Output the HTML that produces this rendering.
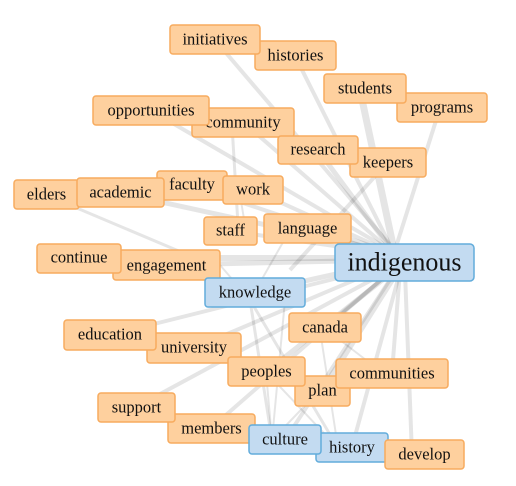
<!DOCTYPE html>
<html><head><meta charset="utf-8"><style>
html,body{margin:0;padding:0;background:#fff;width:516px;height:486px;overflow:hidden}
svg{display:block}
svg text{font-family:"Liberation Serif","DejaVu Serif",serif;font-size:16.5px;fill:#111;text-anchor:middle;dominant-baseline:central}
.o{fill:#fed09e;stroke:#f7ab5e;stroke-width:1.5}
.b{fill:#c3dbf1;stroke:#62acdb;stroke-width:1.5}
line{stroke:#000;stroke-opacity:.1;stroke-linecap:butt}
</style></head><body>
<svg width="516" height="486" viewBox="0 0 516 486" font-family="'Liberation Serif', 'DejaVu Serif', serif">
<g>
<line x1="215" y1="40" x2="390" y2="245" stroke-width="4"/>
<line x1="295" y1="56" x2="390" y2="245" stroke-width="4"/>
<line x1="360" y1="90" x2="393" y2="245" stroke-width="7"/>
<line x1="440" y1="108" x2="395" y2="250" stroke-width="4"/>
<line x1="150" y1="110" x2="390" y2="250" stroke-width="4"/>
<line x1="243" y1="122" x2="390" y2="250" stroke-width="4"/>
<line x1="318" y1="150" x2="390" y2="248" stroke-width="5"/>
<line x1="388" y1="162" x2="290" y2="270" stroke-width="4"/>
<line x1="46" y1="195" x2="200" y2="260" stroke-width="3"/>
<line x1="120" y1="193" x2="390" y2="252" stroke-width="5"/>
<line x1="192" y1="186" x2="390" y2="252" stroke-width="4"/>
<line x1="253" y1="190" x2="390" y2="252" stroke-width="4"/>
<line x1="230" y1="231" x2="390" y2="254" stroke-width="4"/>
<line x1="307" y1="229" x2="390" y2="254" stroke-width="4"/>
<line x1="79" y1="258" x2="390" y2="258" stroke-width="6"/>
<line x1="166" y1="265" x2="390" y2="260" stroke-width="5"/>
<line x1="255" y1="292" x2="390" y2="262" stroke-width="5"/>
<line x1="110" y1="335" x2="390" y2="265" stroke-width="4"/>
<line x1="194" y1="348" x2="390" y2="265" stroke-width="4"/>
<line x1="325" y1="327" x2="395" y2="268" stroke-width="4"/>
<line x1="266" y1="372" x2="395" y2="270" stroke-width="5"/>
<line x1="322" y1="391" x2="398" y2="270" stroke-width="6"/>
<line x1="392" y1="373" x2="400" y2="270" stroke-width="4"/>
<line x1="136" y1="407" x2="390" y2="270" stroke-width="4"/>
<line x1="211" y1="428" x2="390" y2="272" stroke-width="4"/>
<line x1="285" y1="440" x2="395" y2="272" stroke-width="4"/>
<line x1="352" y1="447" x2="400" y2="272" stroke-width="4"/>
<line x1="412" y1="455" x2="405" y2="272" stroke-width="4"/>
<line x1="232" y1="125" x2="238" y2="225" stroke-width="3"/>
<line x1="240" y1="195" x2="245" y2="225" stroke-width="2"/>
<line x1="250" y1="300" x2="272" y2="440" stroke-width="3"/>
<line x1="250" y1="300" x2="338" y2="448" stroke-width="3"/>
<line x1="285" y1="300" x2="272" y2="440" stroke-width="2"/>
<line x1="320" y1="330" x2="338" y2="448" stroke-width="2"/>
<line x1="266" y1="372" x2="272" y2="440" stroke-width="2"/>
<line x1="266" y1="372" x2="338" y2="448" stroke-width="2"/>
<line x1="320" y1="390" x2="272" y2="440" stroke-width="2"/>
<line x1="340" y1="340" x2="366" y2="360" stroke-width="2"/>
<line x1="290" y1="230" x2="250" y2="300" stroke-width="2"/>
<line x1="220" y1="265" x2="250" y2="300" stroke-width="2"/>
</g>
<g font-family="'Liberation Serif', 'DejaVu Serif', serif">
<rect class="o" x="255" y="41" width="81" height="29" rx="3"/><text x="295.5" y="55">histories</text>
<rect class="o" x="170" y="25" width="90" height="29" rx="3"/><text x="215" y="39">initiatives</text>
<rect class="o" x="397" y="93" width="90" height="29" rx="3"/><text x="442" y="107">programs</text>
<rect class="o" x="324" y="74" width="82" height="29" rx="3"/><text x="365" y="88">students</text>
<rect class="o" x="192" y="108" width="102" height="29" rx="3"/><text x="243" y="122">community</text>
<rect class="o" x="93" y="96" width="116" height="29" rx="3"/><text x="151" y="110">opportunities</text>
<rect class="o" x="350" y="148" width="76" height="29" rx="3"/><text x="388" y="162">keepers</text>
<rect class="o" x="278" y="136" width="80" height="28" rx="3"/><text x="318" y="149">research</text>
<rect class="o" x="14" y="180" width="65" height="29" rx="3"/><text x="46.5" y="194">elders</text>
<rect class="o" x="157" y="171" width="70" height="29" rx="3"/><text x="192" y="184">faculty</text>
<rect class="o" x="77" y="178" width="87" height="29" rx="3"/><text x="120.5" y="192">academic</text>
<rect class="o" x="223" y="176" width="60" height="28" rx="3"/><text x="253" y="189">work</text>
<rect class="o" x="204" y="217" width="53" height="28" rx="3"/><text x="230.5" y="230">staff</text>
<rect class="o" x="264" y="214" width="87" height="29" rx="3"/><text x="307.5" y="228">language</text>
<rect class="b" x="335" y="244" width="139" height="37" rx="4"/><text x="404.5" y="262" style="font-size:26px">indigenous</text>
<rect class="o" x="113" y="250" width="107" height="30" rx="3"/><text x="166.5" y="265">engagement</text>
<rect class="o" x="37" y="244" width="84" height="29" rx="3"/><text x="79" y="257">continue</text>
<rect class="b" x="205" y="278" width="100" height="29" rx="3"/><text x="255" y="292">knowledge</text>
<rect class="o" x="289" y="313" width="72" height="29" rx="3"/><text x="325" y="327">canada</text>
<rect class="o" x="147" y="333" width="94" height="30" rx="3"/><text x="194" y="347">university</text>
<rect class="o" x="64" y="320" width="92" height="30" rx="3"/><text x="110" y="334">education</text>
<rect class="o" x="295" y="376" width="55" height="30" rx="3"/><text x="322.5" y="390">plan</text>
<rect class="o" x="228" y="357" width="77" height="29" rx="3"/><text x="266.5" y="371">peoples</text>
<rect class="o" x="336" y="359" width="112" height="29" rx="3"/><text x="392" y="373">communities</text>
<rect class="o" x="168" y="414" width="87" height="29" rx="3"/><text x="211.5" y="428">members</text>
<rect class="o" x="98" y="393" width="77" height="29" rx="3"/><text x="136.5" y="407">support</text>
<rect class="b" x="316" y="433" width="72" height="29" rx="3"/><text x="352" y="447">history</text>
<rect class="b" x="249" y="425" width="72" height="29" rx="3"/><text x="285" y="439">culture</text>
<rect class="o" x="385" y="440" width="79" height="29" rx="3"/><text x="424.5" y="454">develop</text>
</g>
</svg>
</body></html>
